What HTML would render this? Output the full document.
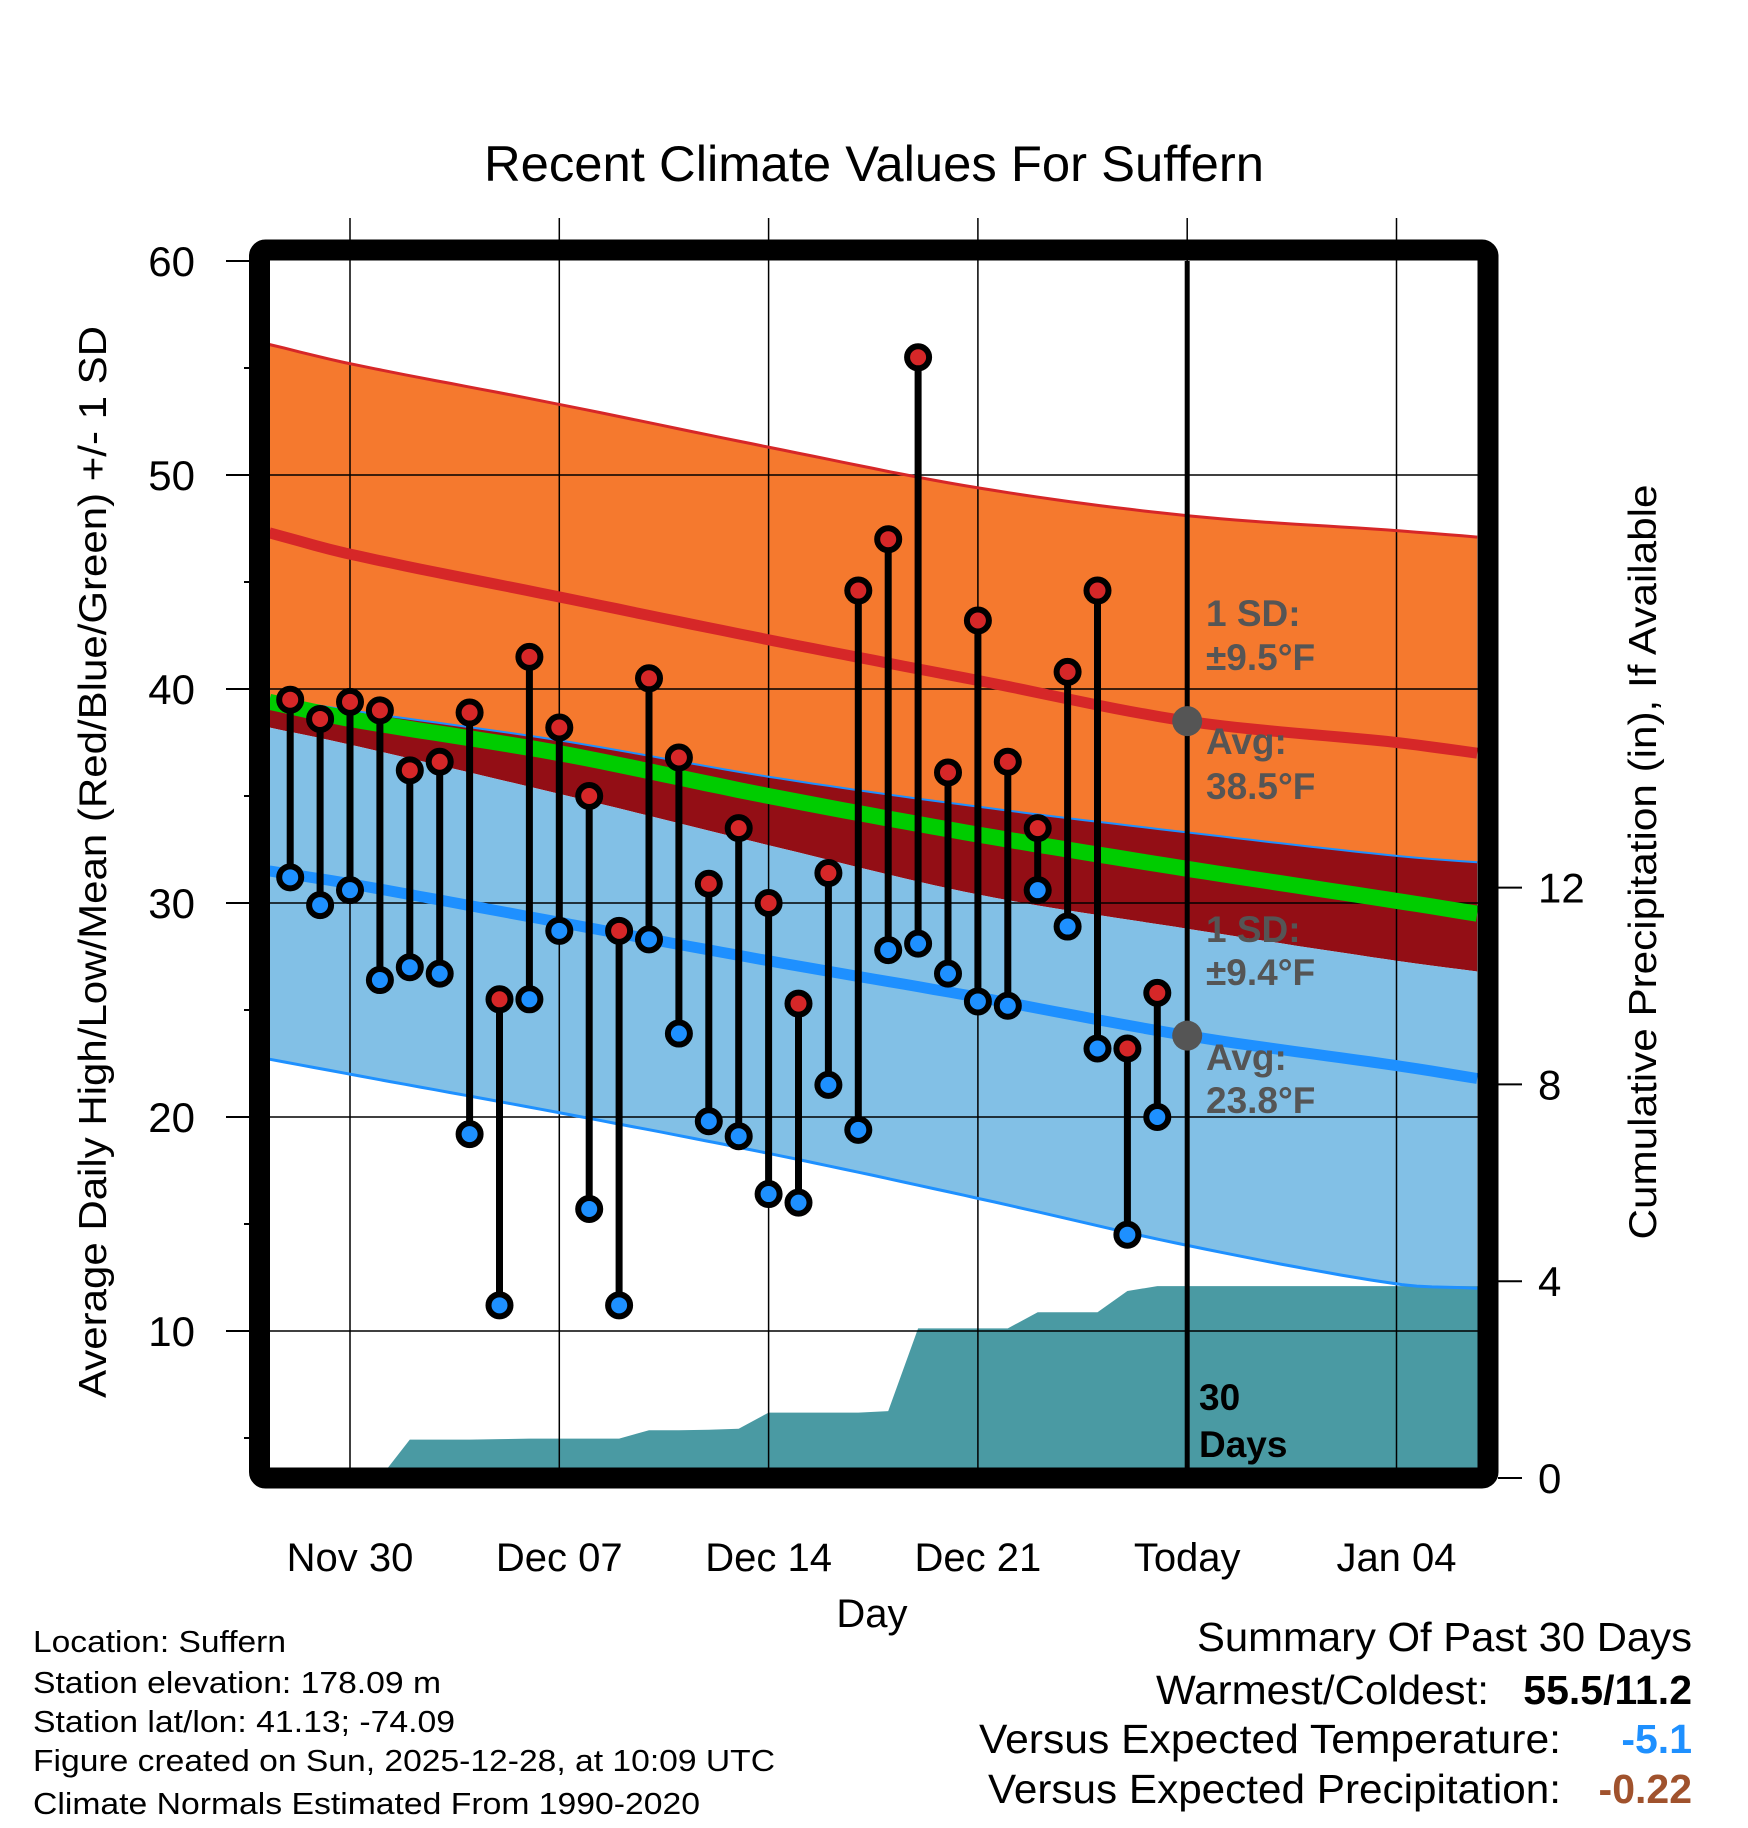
<!DOCTYPE html>
<html><head><meta charset="utf-8"><style>
html,body{margin:0;padding:0;background:#fff;}
svg{display:block;font-family:"Liberation Sans",Arial,sans-serif;}
</style></head><body>
<svg id="chart" width="1748" height="1828" viewBox="0 0 1748 1828" xmlns="http://www.w3.org/2000/svg">
<g id="bands"></g>
<g id="precip"></g>
<g id="grid"></g>
<g id="lines"></g>
<g id="stems"></g>
<g id="annot"></g>
<g id="frame"></g>
<g id="axes"></g>
<text x="874" y="181" font-size="50" text-anchor="middle" textLength="780" lengthAdjust="spacingAndGlyphs">Recent Climate Values For Suffern</text>
<text transform="translate(106,862) rotate(-90)" font-size="39" text-anchor="middle" textLength="1072" lengthAdjust="spacingAndGlyphs">Average Daily High/Low/Mean (Red/Blue/Green) +/- 1 SD</text>
<text transform="translate(1656,862) rotate(-90)" font-size="39" text-anchor="middle" textLength="755" lengthAdjust="spacingAndGlyphs">Cumulative Precipitation (in), If Available</text>
<text x="872" y="1627" font-size="40" text-anchor="middle">Day</text>
<g font-size="31">
<text x="33" y="1652" textLength="253" lengthAdjust="spacingAndGlyphs">Location: Suffern</text>
<text x="33" y="1693" textLength="408" lengthAdjust="spacingAndGlyphs">Station elevation: 178.09 m</text>
<text x="33" y="1732" textLength="422" lengthAdjust="spacingAndGlyphs">Station lat/lon: 41.13; -74.09</text>
<text x="33" y="1771" textLength="742" lengthAdjust="spacingAndGlyphs">Figure created on Sun, 2025-12-28, at 10:09 UTC</text>
<text x="33" y="1814" textLength="667" lengthAdjust="spacingAndGlyphs">Climate Normals Estimated From 1990-2020</text>
</g>
<g font-size="41">
<text x="1692" y="1651" text-anchor="end" textLength="495" lengthAdjust="spacingAndGlyphs">Summary Of Past 30 Days</text>
<text x="1489" y="1704" text-anchor="end" textLength="333" lengthAdjust="spacingAndGlyphs">Warmest/Coldest:</text>
<text x="1692" y="1704" text-anchor="end" font-weight="bold">55.5/11.2</text>
<text x="1561" y="1753" text-anchor="end" textLength="582" lengthAdjust="spacingAndGlyphs">Versus Expected Temperature:</text>
<text x="1692" y="1753" text-anchor="end" font-weight="bold" fill="#1e90ff">-5.1</text>
<text x="1561" y="1803" text-anchor="end" textLength="573" lengthAdjust="spacingAndGlyphs">Versus Expected Precipitation:</text>
<text x="1692" y="1803" text-anchor="end" font-weight="bold" fill="#a0522d">-0.22</text>
</g>
</svg>
<script>
// ---- data ----
const days = [-2,-1,0,1,2,3,4,5,6,7,8,9,10,11,12,13,14,15,16,17,18,19,20,21,22,23,24,25,26,27];
const highs = [39.5,38.6,39.4,39.0,36.2,36.6,38.9,25.5,41.5,38.2,35.0,28.7,40.5,36.8,30.9,33.5,30.0,25.3,31.4,44.6,47.0,55.5,36.1,43.2,36.6,33.5,40.8,44.6,23.2,25.8];
const lows = [31.2,29.9,30.6,26.4,27.0,26.7,19.2,11.2,25.5,28.7,15.7,11.2,28.3,23.9,19.8,19.1,16.4,16.0,21.5,19.4,27.8,28.1,26.7,25.4,25.2,30.6,28.9,23.2,14.5,20.0];
const precip = [0,0,0,0,0.78,0.78,0.78,0.79,0.8,0.8,0.8,0.8,0.97,0.97,0.98,1.0,1.33,1.33,1.33,1.33,1.36,3.04,3.04,3.04,3.04,3.37,3.37,3.37,3.8,3.9];
const normDays = [-2.7,0,7,14,21,28,35,37.7];
const highPlusSD = [56.1,55.2,53.3,51.3,49.4,48.1,47.4,47.1];
const highAvg = [47.3,46.3,44.3,42.3,40.4,38.5,37.5,37.0];
const lowPlusSD = [39.6,39.0,37.6,35.9,34.5,33.3,32.2,31.9];
const meanAvg = [39.4,38.6,37.0,35.0,33.2,31.6,30.1,29.5];
const highMinusSD = [38.2,37.4,35.1,32.7,30.4,28.8,27.3,26.8];
const lowAvg = [31.5,30.9,29.1,27.3,25.6,23.8,22.4,21.8];
const lowMinusSD = [22.7,22.0,20.2,18.3,16.2,14.0,12.2,12.0];
const dateTicks = [0,7,14,21,28,35];
const dateLabels = ["Nov 30","Dec 07","Dec 14","Dec 21","Today","Jan 04"];
const yTicks = [10,20,30,40,50,60];
const y2Ticks = [0,4,8,12];
// ---- scales ----
const L=270,R=1478,T=261,B=1468;
const x = d => 350 + d*29.9;
const y = v => 261 + (60-v)*21.4;
const yp = p => 1478 - p*49.2;
const NS='http://www.w3.org/2000/svg';
function mk(parent,tag,attrs){const e=document.createElementNS(NS,tag);for(const k in attrs)e.setAttribute(k,attrs[k]);document.getElementById(parent).appendChild(e);return e;}
// Catmull-Rom interpolation through normal samples (non-uniform spacing)
function slope(arr,i){const n=arr.length;const a=Math.max(i-1,0),b=Math.min(i+1,n-1);return (arr[b]-arr[a])/(normDays[b]-normDays[a]);}
function interp(arr,d){let i=0;while(i<normDays.length-2&&d>normDays[i+1])i++;
const x0=normDays[i],x1=normDays[i+1],h=x1-x0,t=Math.min(Math.max((d-x0)/h,0),1);
const p1=arr[i],p2=arr[i+1],m1=slope(arr,i)*h,m2=slope(arr,i+1)*h;const t2=t*t,t3=t2*t;
return (2*t3-3*t2+1)*p1+(t3-2*t2+t)*m1+(-2*t3+3*t2)*p2+(t3-t2)*m2;}
const pts=(arr)=>{const o=[];const d0=normDays[0],d1=normDays[normDays.length-1];const N=80;
for(let k=0;k<=N;k++){const d=d0+(d1-d0)*k/N;o.push(x(d).toFixed(1)+','+y(interp(arr,d)).toFixed(1));}return o;};
function band(a,b,fill,name){const p=pts(a).concat(pts(b).reverse()).join(' ');const e=mk('bands','polygon',{points:p,fill:fill});

}
function line(arr,col,w,name){const e=mk('lines','polyline',{points:pts(arr).join(' '),fill:'none',stroke:col,'stroke-width':w});

}
band(highPlusSD,lowPlusSD,'#f5792e','high-sd-band');
band(lowPlusSD,highMinusSD,'#930e15','overlap-band');
band(highMinusSD,lowMinusSD,'#82c0e6','low-sd-band');
// precip area
let pp=[x(-2.7)+','+yp(0)];
days.forEach((d,i)=>pp.push(x(d).toFixed(1)+','+yp(precip[i]).toFixed(1)));
pp.push('1478,'+yp(precip[precip.length-1]));pp.push('1478,'+B);pp.push('270,'+B);
{const e=mk('precip','polygon',{points:pp.join(' '),fill:'#4a9aa3'});

}
// grid
dateTicks.forEach((d,i)=>{const e=mk('grid','line',{x1:x(d),x2:x(d),y1:218,y2:B,stroke:'#000','stroke-width':1.5});


const t=mk('axes','text',{x:x(d),y:1571,'font-size':40,'text-anchor':'middle'});t.textContent=dateLabels[i];

});
yTicks.forEach(v=>{if(v<60){const e=mk('grid','line',{x1:L,x2:R,y1:y(v),y2:y(v),stroke:'#000','stroke-width':1.5});

}
const tk=mk('axes','line',{x1:226,x2:250,y1:y(v),y2:y(v),stroke:'#000','stroke-width':2});


const m=mk('axes','line',{x1:244,x2:250,y1:y(v-5),y2:y(v-5),stroke:'#000','stroke-width':2});


const t=mk('axes','text',{x:195,y:y(v)+15,'font-size':42,'text-anchor':'end'});t.textContent=v;

});
y2Ticks.forEach(p=>{const tk=mk('axes','line',{x1:1498,x2:1522,y1:yp(p),y2:yp(p),stroke:'#000','stroke-width':2});


const t=mk('axes','text',{x:1538,y:yp(p)+15,'font-size':42});t.textContent=p;

});
// normal lines
line(highPlusSD,'#d62728',3,'high-plus-sd-line');
line(highAvg,'#d62728',11,'high-avg-line');
line(lowPlusSD,'#1e90ff',2,'low-plus-sd-line');
line(meanAvg,'#00cc00',16,'mean-line');
line(lowAvg,'#1e90ff',11,'low-avg-line');
line(lowMinusSD,'#1e90ff',3,'low-minus-sd-line');
// today line
{const e=mk('lines','line',{x1:x(28),x2:x(28),y1:T,y2:B,stroke:'#000','stroke-width':5});

}
// stems & markers
days.forEach((d,i)=>{const s=mk('stems','line',{x1:x(d),x2:x(d),y1:y(highs[i]),y2:y(lows[i]),stroke:'#000','stroke-width':7});


const h=mk('stems','circle',{cx:x(d),cy:y(highs[i]),r:11,fill:'#d62728',stroke:'#000','stroke-width':6});


const l=mk('stems','circle',{cx:x(d),cy:y(lows[i]),r:11,fill:'#1e90ff',stroke:'#000','stroke-width':6});

});
// annotations
[[38.5],[23.8]].forEach(a=>{const c=mk('annot','circle',{cx:x(28),cy:y(a[0]),r:15,fill:'#555'});

});
const ann=[['1 SD:',626],['±9.5°F',670],['Avg:',754],['38.5°F',799],['1 SD:',942],['±9.4°F',985],['Avg:',1070],['23.8°F',1113]];
ann.forEach(a=>{const t=mk('annot','text',{x:1206,y:a[1],'font-size':37,'font-weight':'bold',fill:'#555'});t.textContent=a[0];

});
[['30',1410],['Days',1457]].forEach(a=>{const t=mk('annot','text',{x:1199,y:a[1],'font-size':37,'font-weight':'bold',fill:'#000'});t.textContent=a[0];

});
// frame
{const f=mk('frame','rect',{x:259.5,y:250,width:1228.5,height:1228,fill:'none',stroke:'#000','stroke-width':21,rx:6});

}
</script>
</body></html>
